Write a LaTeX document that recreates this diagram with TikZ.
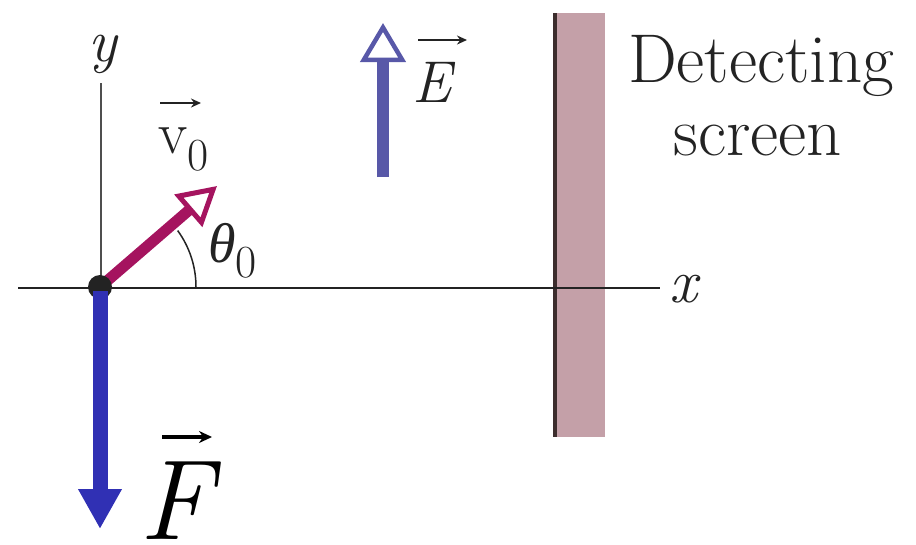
\documentclass[tikz,border=0pt]{standalone}
\usepackage{fontspec}
\newfontfamily\gk{Liberation Serif}
\newcommand{\fsz}[1]{\fontsize{#1}{#1}\selectfont}
\usetikzlibrary{arrows.meta}
\definecolor{fblue}{RGB}{48,48,180}
\definecolor{eblue}{RGB}{88,88,168}
\definecolor{vmag}{RGB}{165,20,95}
\definecolor{scr}{RGB}{196,160,168}
\definecolor{scredge}{RGB}{60,45,45}
\definecolor{ink}{RGB}{35,35,35}
\begin{document}
\begin{tikzpicture}[x=1pt,y=-1pt,
  lbl/.style={inner sep=0pt, text=ink},
  vecarr/.style={-{Stealth[length=10pt,width=9pt]}, line width=2.5pt, ink}]
\useasboundingbox (0,0) rectangle (916,544);
\coordinate (O) at (100,287);
% screen
\fill[scr] (556,13) rectangle (605,437);
\coordinate (st) at (555,13); \coordinate (sb) at (555,437);
\draw[scredge, line width=3.5pt] (st) -- (sb);
% axes
\coordinate (xs) at (18,288); \coordinate (xe) at (660,288);
\draw[ink, line width=2.2pt] (xs) -- (xe);
\coordinate (ys) at (101,83); \coordinate (yo) at (101,288);
\draw[ink!80, line width=2pt] (ys) -- (yo);
\node[lbl, font=\fsz{60}\itshape] (ylab) at (103,54) {y};
\node[lbl, font=\fsz{62}\itshape] (xlab) at (683,289) {x};
% angle
\coordinate (a0) at (196,287);
\draw[ink, line width=1.5pt] (a0) arc[start angle=0, end angle=-36, radius=96];
\node[lbl, anchor=base west, font=\fsz{56}] (th) at (208,262)
  {{\gk\itshape θ}\fsz{46}\raisebox{-15pt}{0}};
% v0
\coordinate (vt) at (217,186);
\draw[vmag, line width=11pt, -{Triangle[open, length=38pt, width=42pt, line width=5pt]}] (O) -- (vt);
\node[lbl, anchor=base west, font=\fsz{60}] (v0) at (158,153)
  {v\fsz{46}\raisebox{-17pt}{0}};
\coordinate (va) at (160,103); \coordinate (vb) at (201,103);
\draw[vecarr] (va) -- (vb);
% dot
\fill[ink] (O) circle[radius=12];
% F
\coordinate (fs) at (100,291); \coordinate (ft) at (100,529);
\draw[fblue, line width=15pt, -{Triangle[length=40pt, width=41pt]}] (fs) -- (ft);
\node[inner sep=0pt, anchor=base, font=\fsz{114}\itshape] (F) at (176,539) {F};
\coordinate (fa) at (162,437); \coordinate (fb) at (212,437);
\draw[-{Stealth[length=13pt,width=12pt]}, line width=3.5pt, black] (fa) -- (fb);
% E
\coordinate (es) at (383,177); \coordinate (et) at (383,23);
\draw[eblue, line width=12pt, -{Triangle[open, length=39pt, width=45pt, line width=4.5pt]}] (es) -- (et);
\node[lbl, anchor=base west, font=\fsz{59}\itshape] (E) at (412,102) {E};
\coordinate (ea) at (418,40); \coordinate (eb) at (467,40);
\draw[vecarr] (ea) -- (eb);
% screen label
\node[lbl, anchor=base, font=\fsz{69}] (det) at (761,82) {Detecting};
\node[lbl, anchor=base, font=\fsz{69}] (scrn) at (758,155) {screen};
\end{tikzpicture}
\end{document}
